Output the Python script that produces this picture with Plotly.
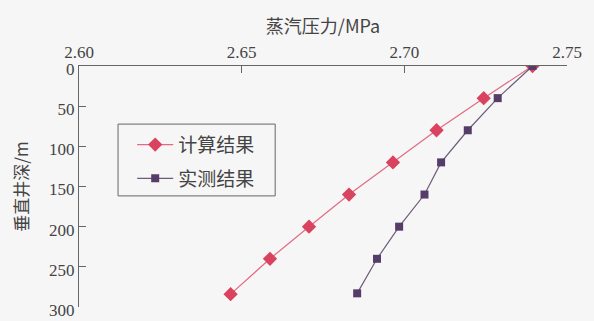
import plotly.graph_objects as go

depth_calc = [0, 40, 80, 120, 160, 200, 240, 284]
pressure_calc = [2.7394, 2.7244, 2.7099, 2.6965, 2.6830, 2.6707, 2.6587, 2.6466]
depth_meas = [0, 40, 80, 120, 160, 200, 240, 283]
pressure_meas = [2.7394, 2.7287, 2.7195, 2.7113, 2.7062, 2.6984, 2.6916, 2.6855]
x_ticks = [2.60, 2.65, 2.70, 2.75]
y_ticks = [0, 50, 100, 150, 200, 250, 300]

serif = "Liberation Serif"
cjk = "Noto Sans CJK SC"

fig = go.Figure()
fig.add_trace(go.Scatter(
    x=pressure_calc, y=depth_calc, mode="lines+markers", name="计算结果",
    legendgroup="a",
    line=dict(color="#e26a82", width=1.2),
    marker=dict(symbol="diamond", size=11, color="#d9435f"),
))
fig.add_trace(go.Scatter(
    x=pressure_meas, y=depth_meas, mode="lines+markers", name="实测结果",
    legendgroup="b",
    line=dict(color="#6c5c7a", width=1.2),
    marker=dict(symbol="square", size=8, color="#563c68"),
))

fig.update_layout(
    template="none",
    width=594, height=321,
    margin=dict(l=79, r=27, t=66, b=14),
    paper_bgcolor="#f6f6f6", plot_bgcolor="#f6f6f6",
    font=dict(family=serif, size=17, color="#444"),
    showlegend=True,
    legend=dict(
        x=0.109, y=0.752, xanchor="left", yanchor="top",
        borderwidth=0, bgcolor="rgba(0,0,0,0)",
        font=dict(family=cjk, size=19, color="#444"),
        traceorder="grouped", tracegroupgap=6, itemwidth=36,
    ),
    shapes=[dict(
        type="rect", xref="paper", yref="paper",
        x0=0.080, x1=0.402, y0=0.461, y1=0.759,
        line=dict(color="#666", width=1), fillcolor="rgba(0,0,0,0)",
    )],
    xaxis=dict(
        side="top", range=[2.60, 2.75], tickvals=x_ticks,
        ticktext=[f"{v:.2f}" for v in x_ticks],
        ticks="inside", ticklen=7, tickcolor="#666", tickwidth=1,
        tickfont=dict(family=serif, size=17, color="#444"),
        showline=True, linecolor="#666", linewidth=1.2, mirror=False,
        showgrid=False, zeroline=False,
        title=dict(text="蒸汽压力/MPa", font=dict(family=cjk, size=18, color="#444"), standoff=4),
    ),
    yaxis=dict(
        range=[300, 0], tickvals=y_ticks,
        ticks="inside", ticklen=7, tickcolor="#666", tickwidth=1,
        tickfont=dict(family=serif, size=17, color="#444"),
        ticklabelshift=-3,
        showline=True, linecolor="#666", linewidth=1.2, mirror=False,
        showgrid=False, zeroline=False,
        title=dict(text="垂直井深/m", font=dict(family=cjk, size=17, color="#444"), standoff=16),
    ),
)

fig.write_html("out.html")
